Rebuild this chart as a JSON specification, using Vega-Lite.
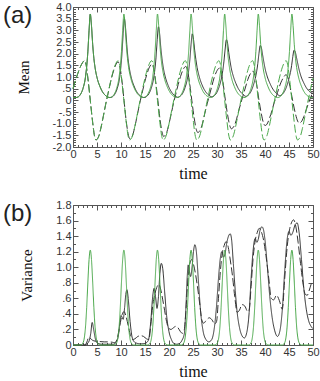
{
"$schema":"https://vega.github.io/schema/vega-lite/v6.json",
"padding":{"left":2,"top":0,"right":4,"bottom":0},
"spacing":16,
"config":{
 "view":{"stroke":"#555","strokeWidth":1},
 "axis":{"domain":false,"grid":false,"labelFont":"Liberation Sans","labelFontSize":11,"labelColor":"#333","tickColor":"#555","tickWidth":1,"tickSize":-5,"titleFont":"Liberation Serif","titleFontWeight":"normal","titleColor":"#111","labelOverlap":false,"labelFlush":false,"labelBound":false},
 "title":{"font":"Liberation Sans","fontSize":24,"fontWeight":"normal","color":"#222","anchor":"start","frame":"group","orient":"top","dx":-70,"dy":31,"offset":0},
 "line":{"interpolate":"monotone","strokeWidth":1}
},
"datasets":{
"A":[
{"s":"ks","t":0,"v":0.13},{"s":"ks","t":0.6,"v":0.12},{"s":"ks","t":1.1,"v":0.15},{"s":"ks","t":1.6,"v":0.27},{"s":"ks","t":2.1,"v":0.52},{"s":"ks","t":2.6,"v":1.0},{"s":"ks","t":2.85,"v":1.45},{"s":"ks","t":3.1,"v":2.1},{"s":"ks","t":3.35,"v":3.0},{"s":"ks","t":3.6,"v":3.7},{"s":"ks","t":3.85,"v":3.2},{"s":"ks","t":4.1,"v":2.4},{"s":"ks","t":4.35,"v":1.8},{"s":"ks","t":4.6,"v":1.4},{"s":"ks","t":5.1,"v":0.9},{"s":"ks","t":5.6,"v":0.6},{"s":"ks","t":6.1,"v":0.38},{"s":"ks","t":6.6,"v":0.24},{"s":"ks","t":7.1,"v":0.16},
{"s":"ks","t":7.7,"v":0.12},{"s":"ks","t":8.2,"v":0.15},{"s":"ks","t":8.7,"v":0.26},{"s":"ks","t":9.2,"v":0.5},{"s":"ks","t":9.7,"v":0.95},{"s":"ks","t":9.95,"v":1.38},{"s":"ks","t":10.2,"v":2.0},{"s":"ks","t":10.45,"v":2.85},{"s":"ks","t":10.7,"v":3.5},{"s":"ks","t":10.95,"v":3.1},{"s":"ks","t":11.2,"v":2.4},{"s":"ks","t":11.45,"v":1.82},{"s":"ks","t":11.7,"v":1.43},{"s":"ks","t":12.2,"v":0.93},{"s":"ks","t":12.7,"v":0.62},{"s":"ks","t":13.2,"v":0.4},{"s":"ks","t":13.7,"v":0.25},{"s":"ks","t":14.2,"v":0.17},
{"s":"ks","t":14.8,"v":0.12},{"s":"ks","t":15.3,"v":0.16},{"s":"ks","t":15.8,"v":0.28},{"s":"ks","t":16.3,"v":0.52},{"s":"ks","t":16.8,"v":0.95},{"s":"ks","t":17.05,"v":1.32},{"s":"ks","t":17.3,"v":1.85},{"s":"ks","t":17.55,"v":2.6},{"s":"ks","t":17.8,"v":3.15},{"s":"ks","t":18.05,"v":2.85},{"s":"ks","t":18.3,"v":2.25},{"s":"ks","t":18.55,"v":1.78},{"s":"ks","t":18.8,"v":1.42},{"s":"ks","t":19.3,"v":0.95},{"s":"ks","t":19.8,"v":0.65},{"s":"ks","t":20.3,"v":0.43},{"s":"ks","t":20.8,"v":0.28},{"s":"ks","t":21.3,"v":0.19},
{"s":"ks","t":21.85,"v":0.13},{"s":"ks","t":22.35,"v":0.18},{"s":"ks","t":22.85,"v":0.3},{"s":"ks","t":23.35,"v":0.55},{"s":"ks","t":23.85,"v":0.95},{"s":"ks","t":24.1,"v":1.28},{"s":"ks","t":24.35,"v":1.75},{"s":"ks","t":24.6,"v":2.4},{"s":"ks","t":24.85,"v":2.85},{"s":"ks","t":25.1,"v":2.62},{"s":"ks","t":25.35,"v":2.15},{"s":"ks","t":25.6,"v":1.75},{"s":"ks","t":25.85,"v":1.42},{"s":"ks","t":26.35,"v":0.98},{"s":"ks","t":26.85,"v":0.68},{"s":"ks","t":27.35,"v":0.46},{"s":"ks","t":27.85,"v":0.31},{"s":"ks","t":28.35,"v":0.21},
{"s":"ks","t":28.95,"v":0.15},{"s":"ks","t":29.45,"v":0.2},{"s":"ks","t":29.95,"v":0.33},{"s":"ks","t":30.45,"v":0.58},{"s":"ks","t":30.95,"v":0.97},{"s":"ks","t":31.2,"v":1.27},{"s":"ks","t":31.45,"v":1.68},{"s":"ks","t":31.7,"v":2.2},{"s":"ks","t":31.95,"v":2.6},{"s":"ks","t":32.2,"v":2.45},{"s":"ks","t":32.45,"v":2.05},{"s":"ks","t":32.7,"v":1.7},{"s":"ks","t":32.95,"v":1.4},{"s":"ks","t":33.45,"v":1.0},{"s":"ks","t":33.95,"v":0.72},{"s":"ks","t":34.45,"v":0.5},{"s":"ks","t":34.95,"v":0.35},{"s":"ks","t":35.45,"v":0.25},
{"s":"ks","t":36.0,"v":0.17},{"s":"ks","t":36.5,"v":0.22},{"s":"ks","t":37.0,"v":0.35},{"s":"ks","t":37.5,"v":0.6},{"s":"ks","t":38.0,"v":0.97},{"s":"ks","t":38.25,"v":1.22},{"s":"ks","t":38.5,"v":1.58},{"s":"ks","t":38.75,"v":2.02},{"s":"ks","t":39.0,"v":2.35},{"s":"ks","t":39.25,"v":2.25},{"s":"ks","t":39.5,"v":1.95},{"s":"ks","t":39.75,"v":1.65},{"s":"ks","t":40.0,"v":1.38},{"s":"ks","t":40.5,"v":1.0},{"s":"ks","t":41.0,"v":0.74},{"s":"ks","t":41.5,"v":0.53},{"s":"ks","t":42.0,"v":0.38},{"s":"ks","t":42.5,"v":0.28},
{"s":"ks","t":43.05,"v":0.2},{"s":"ks","t":43.55,"v":0.25},{"s":"ks","t":44.05,"v":0.38},{"s":"ks","t":44.55,"v":0.62},{"s":"ks","t":45.05,"v":0.98},{"s":"ks","t":45.3,"v":1.2},{"s":"ks","t":45.55,"v":1.5},{"s":"ks","t":45.8,"v":1.88},{"s":"ks","t":46.05,"v":2.15},{"s":"ks","t":46.3,"v":2.08},{"s":"ks","t":46.55,"v":1.85},{"s":"ks","t":46.8,"v":1.6},{"s":"ks","t":47.05,"v":1.36},{"s":"ks","t":47.55,"v":1.0},{"s":"ks","t":48.05,"v":0.76},{"s":"ks","t":48.55,"v":0.56},{"s":"ks","t":49.05,"v":0.42},{"s":"ks","t":49.55,"v":0.33},{"s":"ks","t":50,"v":0.3},
{"s":"kd","t":0,"v":0.5},{"s":"kd","t":0.5,"v":0.85},{"s":"kd","t":1,"v":1.15},{"s":"kd","t":1.5,"v":1.42},{"s":"kd","t":2,"v":1.62},{"s":"kd","t":2.4,"v":1.7},{"s":"kd","t":2.7,"v":1.55},{"s":"kd","t":3.1,"v":0.95},{"s":"kd","t":3.6,"v":0},{"s":"kd","t":4.1,"v":-0.95},{"s":"kd","t":4.5,"v":-1.55},{"s":"kd","t":4.8,"v":-1.7},
{"s":"kd","t":5.1,"v":-1.65},{"s":"kd","t":5.4,"v":-1.52},{"s":"kd","t":5.8,"v":-1.2},{"s":"kd","t":6.3,"v":-0.7},{"s":"kd","t":6.8,"v":-0.18},{"s":"kd","t":7.3,"v":0.29},{"s":"kd","t":7.8,"v":0.76},{"s":"kd","t":8.3,"v":1.16},{"s":"kd","t":8.8,"v":1.47},{"s":"kd","t":9.4,"v":1.65},
{"s":"kd","t":9.7,"v":1.5},{"s":"kd","t":10.15,"v":0.91},{"s":"kd","t":10.63,"v":0},{"s":"kd","t":11.1,"v":-0.91},{"s":"kd","t":11.55,"v":-1.5},{"s":"kd","t":11.85,"v":-1.65},
{"s":"kd","t":12.15,"v":-1.6},{"s":"kd","t":12.45,"v":-1.48},{"s":"kd","t":12.85,"v":-1.16},{"s":"kd","t":13.35,"v":-0.68},{"s":"kd","t":13.85,"v":-0.17},{"s":"kd","t":14.35,"v":0.27},{"s":"kd","t":14.85,"v":0.71},{"s":"kd","t":15.35,"v":1.09},{"s":"kd","t":15.85,"v":1.39},{"s":"kd","t":16.45,"v":1.55},
{"s":"kd","t":16.75,"v":1.41},{"s":"kd","t":17.2,"v":0.85},{"s":"kd","t":17.68,"v":0},{"s":"kd","t":18.15,"v":-0.85},{"s":"kd","t":18.6,"v":-1.41},{"s":"kd","t":18.9,"v":-1.55},
{"s":"kd","t":19.2,"v":-1.5},{"s":"kd","t":19.5,"v":-1.39},{"s":"kd","t":19.9,"v":-1.09},{"s":"kd","t":20.4,"v":-0.64},{"s":"kd","t":20.9,"v":-0.16},{"s":"kd","t":21.4,"v":0.26},{"s":"kd","t":21.9,"v":0.67},{"s":"kd","t":22.4,"v":1.02},{"s":"kd","t":22.9,"v":1.3},{"s":"kd","t":23.5,"v":1.45},
{"s":"kd","t":23.8,"v":1.32},{"s":"kd","t":24.25,"v":0.8},{"s":"kd","t":24.75,"v":0},{"s":"kd","t":25.25,"v":-0.76},{"s":"kd","t":25.7,"v":-1.26},{"s":"kd","t":26.0,"v":-1.38},
{"s":"kd","t":26.3,"v":-1.34},{"s":"kd","t":26.6,"v":-1.23},{"s":"kd","t":27.0,"v":-0.97},{"s":"kd","t":27.45,"v":-0.57},{"s":"kd","t":27.95,"v":-0.15},{"s":"kd","t":28.45,"v":0.24},{"s":"kd","t":28.95,"v":0.63},{"s":"kd","t":29.4,"v":0.97},{"s":"kd","t":29.9,"v":1.23},{"s":"kd","t":30.5,"v":1.38},
{"s":"kd","t":30.8,"v":1.26},{"s":"kd","t":31.25,"v":0.76},{"s":"kd","t":31.75,"v":0},{"s":"kd","t":32.25,"v":-0.67},{"s":"kd","t":32.7,"v":-1.11},{"s":"kd","t":33.0,"v":-1.22},
{"s":"kd","t":33.3,"v":-1.18},{"s":"kd","t":33.6,"v":-1.09},{"s":"kd","t":34.0,"v":-0.86},{"s":"kd","t":34.45,"v":-0.5},{"s":"kd","t":34.95,"v":-0.13},{"s":"kd","t":35.45,"v":0.22},{"s":"kd","t":35.95,"v":0.57},{"s":"kd","t":36.4,"v":0.88},{"s":"kd","t":36.9,"v":1.12},{"s":"kd","t":37.5,"v":1.25},
{"s":"kd","t":37.8,"v":1.14},{"s":"kd","t":38.25,"v":0.69},{"s":"kd","t":38.75,"v":0},{"s":"kd","t":39.25,"v":-0.59},{"s":"kd","t":39.7,"v":-0.98},{"s":"kd","t":40.0,"v":-1.08},
{"s":"kd","t":40.3,"v":-1.05},{"s":"kd","t":40.55,"v":-0.97},{"s":"kd","t":40.95,"v":-0.76},{"s":"kd","t":41.45,"v":-0.44},{"s":"kd","t":41.9,"v":-0.11},{"s":"kd","t":42.4,"v":0.19},{"s":"kd","t":42.85,"v":0.5},{"s":"kd","t":43.35,"v":0.78},{"s":"kd","t":43.85,"v":0.98},{"s":"kd","t":44.4,"v":1.1},
{"s":"kd","t":44.72,"v":1.0},{"s":"kd","t":45.2,"v":0.6},{"s":"kd","t":45.75,"v":0},{"s":"kd","t":46.3,"v":-0.54},{"s":"kd","t":46.8,"v":-0.89},{"s":"kd","t":47.1,"v":-0.98},
{"s":"kd","t":47.4,"v":-0.95},{"s":"kd","t":47.7,"v":-0.88},{"s":"kd","t":48.1,"v":-0.69},{"s":"kd","t":48.6,"v":-0.4},{"s":"kd","t":49.1,"v":-0.1},{"s":"kd","t":49.6,"v":0.17},{"s":"kd","t":50,"v":0.38},
{"s":"gs","t":0,"v":0.13},{"s":"gs","t":0.6,"v":0.12},{"s":"gs","t":1.1,"v":0.15},{"s":"gs","t":1.6,"v":0.27},{"s":"gs","t":2.1,"v":0.52},{"s":"gs","t":2.6,"v":1.0},{"s":"gs","t":2.85,"v":1.45},{"s":"gs","t":3.1,"v":2.1},{"s":"gs","t":3.35,"v":3.0},{"s":"gs","t":3.6,"v":3.7},{"s":"gs","t":3.85,"v":3.2},{"s":"gs","t":4.1,"v":2.4},{"s":"gs","t":4.35,"v":1.8},{"s":"gs","t":4.6,"v":1.4},{"s":"gs","t":5.1,"v":0.9},{"s":"gs","t":5.6,"v":0.6},{"s":"gs","t":6.1,"v":0.38},{"s":"gs","t":6.6,"v":0.24},{"s":"gs","t":7.1,"v":0.16},
{"s":"gs","t":7.6,"v":0.12},{"s":"gs","t":8.1,"v":0.15},{"s":"gs","t":8.6,"v":0.27},{"s":"gs","t":9.1,"v":0.52},{"s":"gs","t":9.6,"v":1.0},{"s":"gs","t":9.85,"v":1.45},{"s":"gs","t":10.1,"v":2.1},{"s":"gs","t":10.35,"v":3.0},{"s":"gs","t":10.6,"v":3.7},{"s":"gs","t":10.85,"v":3.2},{"s":"gs","t":11.1,"v":2.4},{"s":"gs","t":11.35,"v":1.8},{"s":"gs","t":11.6,"v":1.4},{"s":"gs","t":12.1,"v":0.9},{"s":"gs","t":12.6,"v":0.6},{"s":"gs","t":13.1,"v":0.38},{"s":"gs","t":13.6,"v":0.24},{"s":"gs","t":14.1,"v":0.16},
{"s":"gs","t":14.6,"v":0.12},{"s":"gs","t":15.1,"v":0.15},{"s":"gs","t":15.6,"v":0.27},{"s":"gs","t":16.1,"v":0.52},{"s":"gs","t":16.6,"v":1.0},{"s":"gs","t":16.85,"v":1.45},{"s":"gs","t":17.1,"v":2.1},{"s":"gs","t":17.35,"v":3.0},{"s":"gs","t":17.6,"v":3.7},{"s":"gs","t":17.85,"v":3.2},{"s":"gs","t":18.1,"v":2.4},{"s":"gs","t":18.35,"v":1.8},{"s":"gs","t":18.6,"v":1.4},{"s":"gs","t":19.1,"v":0.9},{"s":"gs","t":19.6,"v":0.6},{"s":"gs","t":20.1,"v":0.38},{"s":"gs","t":20.6,"v":0.24},{"s":"gs","t":21.1,"v":0.16},
{"s":"gs","t":21.6,"v":0.12},{"s":"gs","t":22.1,"v":0.15},{"s":"gs","t":22.6,"v":0.27},{"s":"gs","t":23.1,"v":0.52},{"s":"gs","t":23.6,"v":1.0},{"s":"gs","t":23.85,"v":1.45},{"s":"gs","t":24.1,"v":2.1},{"s":"gs","t":24.35,"v":3.0},{"s":"gs","t":24.6,"v":3.7},{"s":"gs","t":24.85,"v":3.2},{"s":"gs","t":25.1,"v":2.4},{"s":"gs","t":25.35,"v":1.8},{"s":"gs","t":25.6,"v":1.4},{"s":"gs","t":26.1,"v":0.9},{"s":"gs","t":26.6,"v":0.6},{"s":"gs","t":27.1,"v":0.38},{"s":"gs","t":27.6,"v":0.24},{"s":"gs","t":28.1,"v":0.16},
{"s":"gs","t":28.6,"v":0.12},{"s":"gs","t":29.1,"v":0.15},{"s":"gs","t":29.6,"v":0.27},{"s":"gs","t":30.1,"v":0.52},{"s":"gs","t":30.6,"v":1.0},{"s":"gs","t":30.85,"v":1.45},{"s":"gs","t":31.1,"v":2.1},{"s":"gs","t":31.35,"v":3.0},{"s":"gs","t":31.6,"v":3.7},{"s":"gs","t":31.85,"v":3.2},{"s":"gs","t":32.1,"v":2.4},{"s":"gs","t":32.35,"v":1.8},{"s":"gs","t":32.6,"v":1.4},{"s":"gs","t":33.1,"v":0.9},{"s":"gs","t":33.6,"v":0.6},{"s":"gs","t":34.1,"v":0.38},{"s":"gs","t":34.6,"v":0.24},{"s":"gs","t":35.1,"v":0.16},
{"s":"gs","t":35.6,"v":0.12},{"s":"gs","t":36.1,"v":0.15},{"s":"gs","t":36.6,"v":0.27},{"s":"gs","t":37.1,"v":0.52},{"s":"gs","t":37.6,"v":1.0},{"s":"gs","t":37.85,"v":1.45},{"s":"gs","t":38.1,"v":2.1},{"s":"gs","t":38.35,"v":3.0},{"s":"gs","t":38.6,"v":3.7},{"s":"gs","t":38.85,"v":3.2},{"s":"gs","t":39.1,"v":2.4},{"s":"gs","t":39.35,"v":1.8},{"s":"gs","t":39.6,"v":1.4},{"s":"gs","t":40.1,"v":0.9},{"s":"gs","t":40.6,"v":0.6},{"s":"gs","t":41.1,"v":0.38},{"s":"gs","t":41.6,"v":0.24},{"s":"gs","t":42.1,"v":0.16},
{"s":"gs","t":42.6,"v":0.12},{"s":"gs","t":43.1,"v":0.15},{"s":"gs","t":43.6,"v":0.27},{"s":"gs","t":44.1,"v":0.52},{"s":"gs","t":44.6,"v":1.0},{"s":"gs","t":44.85,"v":1.45},{"s":"gs","t":45.1,"v":2.1},{"s":"gs","t":45.35,"v":3.0},{"s":"gs","t":45.6,"v":3.7},{"s":"gs","t":45.85,"v":3.2},{"s":"gs","t":46.1,"v":2.4},{"s":"gs","t":46.35,"v":1.8},{"s":"gs","t":46.6,"v":1.4},{"s":"gs","t":47.1,"v":0.9},{"s":"gs","t":47.6,"v":0.6},{"s":"gs","t":48.1,"v":0.38},{"s":"gs","t":48.6,"v":0.24},{"s":"gs","t":49.1,"v":0.16},{"s":"gs","t":49.6,"v":0.12},{"s":"gs","t":50,"v":0.12},
{"s":"gd","t":0,"v":0.5},{"s":"gd","t":0.5,"v":0.85},{"s":"gd","t":1,"v":1.15},{"s":"gd","t":1.5,"v":1.42},{"s":"gd","t":2,"v":1.62},{"s":"gd","t":2.4,"v":1.7},
{"s":"gd","t":2.7,"v":1.55},{"s":"gd","t":3.1,"v":0.95},{"s":"gd","t":3.6,"v":0},{"s":"gd","t":4.1,"v":-0.95},{"s":"gd","t":4.5,"v":-1.55},{"s":"gd","t":4.8,"v":-1.7},{"s":"gd","t":5.1,"v":-1.65},{"s":"gd","t":5.4,"v":-1.52},{"s":"gd","t":5.8,"v":-1.2},{"s":"gd","t":6.3,"v":-0.7},{"s":"gd","t":6.8,"v":-0.18},{"s":"gd","t":7.3,"v":0.3},{"s":"gd","t":7.8,"v":0.78},{"s":"gd","t":8.3,"v":1.2},{"s":"gd","t":8.8,"v":1.52},{"s":"gd","t":9.4,"v":1.7},
{"s":"gd","t":9.7,"v":1.55},{"s":"gd","t":10.1,"v":0.95},{"s":"gd","t":10.6,"v":0},{"s":"gd","t":11.1,"v":-0.95},{"s":"gd","t":11.5,"v":-1.55},{"s":"gd","t":11.8,"v":-1.7},{"s":"gd","t":12.1,"v":-1.65},{"s":"gd","t":12.4,"v":-1.52},{"s":"gd","t":12.8,"v":-1.2},{"s":"gd","t":13.3,"v":-0.7},{"s":"gd","t":13.8,"v":-0.18},{"s":"gd","t":14.3,"v":0.3},{"s":"gd","t":14.8,"v":0.78},{"s":"gd","t":15.3,"v":1.2},{"s":"gd","t":15.8,"v":1.52},{"s":"gd","t":16.4,"v":1.7},
{"s":"gd","t":16.7,"v":1.55},{"s":"gd","t":17.1,"v":0.95},{"s":"gd","t":17.6,"v":0},{"s":"gd","t":18.1,"v":-0.95},{"s":"gd","t":18.5,"v":-1.55},{"s":"gd","t":18.8,"v":-1.7},{"s":"gd","t":19.1,"v":-1.65},{"s":"gd","t":19.4,"v":-1.52},{"s":"gd","t":19.8,"v":-1.2},{"s":"gd","t":20.3,"v":-0.7},{"s":"gd","t":20.8,"v":-0.18},{"s":"gd","t":21.3,"v":0.3},{"s":"gd","t":21.8,"v":0.78},{"s":"gd","t":22.3,"v":1.2},{"s":"gd","t":22.8,"v":1.52},{"s":"gd","t":23.4,"v":1.7},
{"s":"gd","t":23.7,"v":1.55},{"s":"gd","t":24.1,"v":0.95},{"s":"gd","t":24.6,"v":0},{"s":"gd","t":25.1,"v":-0.95},{"s":"gd","t":25.5,"v":-1.55},{"s":"gd","t":25.8,"v":-1.7},{"s":"gd","t":26.1,"v":-1.65},{"s":"gd","t":26.4,"v":-1.52},{"s":"gd","t":26.8,"v":-1.2},{"s":"gd","t":27.3,"v":-0.7},{"s":"gd","t":27.8,"v":-0.18},{"s":"gd","t":28.3,"v":0.3},{"s":"gd","t":28.8,"v":0.78},{"s":"gd","t":29.3,"v":1.2},{"s":"gd","t":29.8,"v":1.52},{"s":"gd","t":30.4,"v":1.7},
{"s":"gd","t":30.7,"v":1.55},{"s":"gd","t":31.1,"v":0.95},{"s":"gd","t":31.6,"v":0},{"s":"gd","t":32.1,"v":-0.95},{"s":"gd","t":32.5,"v":-1.55},{"s":"gd","t":32.8,"v":-1.7},{"s":"gd","t":33.1,"v":-1.65},{"s":"gd","t":33.4,"v":-1.52},{"s":"gd","t":33.8,"v":-1.2},{"s":"gd","t":34.3,"v":-0.7},{"s":"gd","t":34.8,"v":-0.18},{"s":"gd","t":35.3,"v":0.3},{"s":"gd","t":35.8,"v":0.78},{"s":"gd","t":36.3,"v":1.2},{"s":"gd","t":36.8,"v":1.52},{"s":"gd","t":37.4,"v":1.7},
{"s":"gd","t":37.7,"v":1.55},{"s":"gd","t":38.1,"v":0.95},{"s":"gd","t":38.6,"v":0},{"s":"gd","t":39.1,"v":-0.95},{"s":"gd","t":39.5,"v":-1.55},{"s":"gd","t":39.8,"v":-1.7},{"s":"gd","t":40.1,"v":-1.65},{"s":"gd","t":40.4,"v":-1.52},{"s":"gd","t":40.8,"v":-1.2},{"s":"gd","t":41.3,"v":-0.7},{"s":"gd","t":41.8,"v":-0.18},{"s":"gd","t":42.3,"v":0.3},{"s":"gd","t":42.8,"v":0.78},{"s":"gd","t":43.3,"v":1.2},{"s":"gd","t":43.8,"v":1.52},{"s":"gd","t":44.4,"v":1.7},
{"s":"gd","t":44.7,"v":1.55},{"s":"gd","t":45.1,"v":0.95},{"s":"gd","t":45.6,"v":0},{"s":"gd","t":46.1,"v":-0.95},{"s":"gd","t":46.5,"v":-1.55},{"s":"gd","t":46.8,"v":-1.7},{"s":"gd","t":47.1,"v":-1.65},{"s":"gd","t":47.4,"v":-1.52},{"s":"gd","t":47.8,"v":-1.2},{"s":"gd","t":48.3,"v":-0.7},{"s":"gd","t":48.8,"v":-0.18},{"s":"gd","t":49.3,"v":0.3},{"s":"gd","t":49.8,"v":0.78},{"s":"gd","t":50,"v":0.95}
],
"B":[
{"s":"ks","t":0,"v":0},{"s":"ks","t":2.5,"v":0},{"s":"ks","t":3.0,"v":0.02},{"s":"ks","t":3.4,"v":0.06},{"s":"ks","t":3.7,"v":0.15},{"s":"ks","t":4.0,"v":0.29},{"s":"ks","t":4.3,"v":0.2},{"s":"ks","t":4.7,"v":0.07},{"s":"ks","t":5.2,"v":0.02},{"s":"ks","t":6,"v":0.01},{"s":"ks","t":8.5,"v":0.01},{"s":"ks","t":9.0,"v":0.04},{"s":"ks","t":9.5,"v":0.14},{"s":"ks","t":9.8,"v":0.3},{"s":"ks","t":10.0,"v":0.38},{"s":"ks","t":10.2,"v":0.36},{"s":"ks","t":10.45,"v":0.33},{"s":"ks","t":10.75,"v":0.48},{"s":"ks","t":11.0,"v":0.65},{"s":"ks","t":11.25,"v":0.71},{"s":"ks","t":11.5,"v":0.6},{"s":"ks","t":11.9,"v":0.3},{"s":"ks","t":12.4,"v":0.08},{"s":"ks","t":13.0,"v":0.03},{"s":"ks","t":14.0,"v":0.015},{"s":"ks","t":15.0,"v":0.02},{"s":"ks","t":15.7,"v":0.06},{"s":"ks","t":16.2,"v":0.3},{"s":"ks","t":16.6,"v":0.62},{"s":"ks","t":16.9,"v":0.73},{"s":"ks","t":17.2,"v":0.62},{"s":"ks","t":17.5,"v":0.47},{"s":"ks","t":17.8,"v":0.62},{"s":"ks","t":18.1,"v":0.92},{"s":"ks","t":18.4,"v":1.05},{"s":"ks","t":18.7,"v":0.98},{"s":"ks","t":19.1,"v":0.68},{"s":"ks","t":19.5,"v":0.38},{"s":"ks","t":20.0,"v":0.17},{"s":"ks","t":20.5,"v":0.07},{"s":"ks","t":21.0,"v":0.02},{"s":"ks","t":21.6,"v":0.01},{"s":"ks","t":22.2,"v":0.02},{"s":"ks","t":22.7,"v":0.06},{"s":"ks","t":23.2,"v":0.15},{"s":"ks","t":23.5,"v":0.45},{"s":"ks","t":23.8,"v":0.88},{"s":"ks","t":24.0,"v":1.03},{"s":"ks","t":24.25,"v":0.95},{"s":"ks","t":24.5,"v":0.88},{"s":"ks","t":24.8,"v":1.0},{"s":"ks","t":25.1,"v":1.2},{"s":"ks","t":25.4,"v":1.29},{"s":"ks","t":25.7,"v":1.2},{"s":"ks","t":26.1,"v":0.85},{"s":"ks","t":26.6,"v":0.42},{"s":"ks","t":27.1,"v":0.18},{"s":"ks","t":27.7,"v":0.07},{"s":"ks","t":28.3,"v":0.04},{"s":"ks","t":28.9,"v":0.07},{"s":"ks","t":29.4,"v":0.2},{"s":"ks","t":29.9,"v":0.5},{"s":"ks","t":30.3,"v":0.85},{"s":"ks","t":30.7,"v":1.12},{"s":"ks","t":31.0,"v":1.2},{"s":"ks","t":31.35,"v":1.13},{"s":"ks","t":31.7,"v":1.18},{"s":"ks","t":32.0,"v":1.3},{"s":"ks","t":32.4,"v":1.4},{"s":"ks","t":32.75,"v":1.43},{"s":"ks","t":33.05,"v":1.35},{"s":"ks","t":33.4,"v":1.05},{"s":"ks","t":33.8,"v":0.7},{"s":"ks","t":34.2,"v":0.42},{"s":"ks","t":34.7,"v":0.22},{"s":"ks","t":35.2,"v":0.12},{"s":"ks","t":35.7,"v":0.09},{"s":"ks","t":36.2,"v":0.16},{"s":"ks","t":36.7,"v":0.42},{"s":"ks","t":37.1,"v":0.85},{"s":"ks","t":37.5,"v":1.2},{"s":"ks","t":37.95,"v":1.37},{"s":"ks","t":38.3,"v":1.32},{"s":"ks","t":38.6,"v":1.36},{"s":"ks","t":38.95,"v":1.47},{"s":"ks","t":39.35,"v":1.52},{"s":"ks","t":39.65,"v":1.49},{"s":"ks","t":40.0,"v":1.35},{"s":"ks","t":40.5,"v":1.0},{"s":"ks","t":41.0,"v":0.62},{"s":"ks","t":41.5,"v":0.35},{"s":"ks","t":42.0,"v":0.19},{"s":"ks","t":42.6,"v":0.11},{"s":"ks","t":43.1,"v":0.18},{"s":"ks","t":43.6,"v":0.45},{"s":"ks","t":44.1,"v":0.95},{"s":"ks","t":44.6,"v":1.35},{"s":"ks","t":45.0,"v":1.46},{"s":"ks","t":45.4,"v":1.41},{"s":"ks","t":45.8,"v":1.45},{"s":"ks","t":46.3,"v":1.55},{"s":"ks","t":46.7,"v":1.57},{"s":"ks","t":47.1,"v":1.45},{"s":"ks","t":47.6,"v":1.1},{"s":"ks","t":48.1,"v":0.72},{"s":"ks","t":48.6,"v":0.46},{"s":"ks","t":49.1,"v":0.31},{"s":"ks","t":49.6,"v":0.24},{"s":"ks","t":50,"v":0.21},
{"s":"kd","t":0,"v":0},{"s":"kd","t":2.5,"v":0},{"s":"kd","t":2.9,"v":0.04},{"s":"kd","t":3.3,"v":0.1},{"s":"kd","t":3.7,"v":0.08},{"s":"kd","t":4.1,"v":0.06},{"s":"kd","t":4.6,"v":0.05},{"s":"kd","t":5.5,"v":0.045},{"s":"kd","t":6.5,"v":0.04},{"s":"kd","t":7.5,"v":0.04},{"s":"kd","t":8.2,"v":0.035},{"s":"kd","t":8.7,"v":0.03},{"s":"kd","t":9.2,"v":0.08},{"s":"kd","t":9.6,"v":0.2},{"s":"kd","t":10.0,"v":0.33},{"s":"kd","t":10.35,"v":0.41},{"s":"kd","t":10.65,"v":0.43},{"s":"kd","t":11.0,"v":0.38},{"s":"kd","t":11.5,"v":0.25},{"s":"kd","t":12.0,"v":0.12},{"s":"kd","t":12.4,"v":0.07},{"s":"kd","t":12.9,"v":0.08},{"s":"kd","t":13.5,"v":0.11},{"s":"kd","t":14.1,"v":0.12},{"s":"kd","t":14.7,"v":0.11},{"s":"kd","t":15.3,"v":0.08},{"s":"kd","t":15.8,"v":0.07},{"s":"kd","t":16.2,"v":0.25},{"s":"kd","t":16.6,"v":0.5},{"s":"kd","t":17.0,"v":0.64},{"s":"kd","t":17.45,"v":0.74},{"s":"kd","t":17.9,"v":0.78},{"s":"kd","t":18.25,"v":0.72},{"s":"kd","t":18.7,"v":0.58},{"s":"kd","t":19.1,"v":0.44},{"s":"kd","t":19.5,"v":0.3},{"s":"kd","t":19.9,"v":0.22},{"s":"kd","t":20.4,"v":0.2},{"s":"kd","t":20.9,"v":0.22},{"s":"kd","t":21.4,"v":0.24},{"s":"kd","t":21.9,"v":0.22},{"s":"kd","t":22.4,"v":0.17},{"s":"kd","t":22.8,"v":0.15},{"s":"kd","t":23.2,"v":0.2},{"s":"kd","t":23.5,"v":0.42},{"s":"kd","t":23.8,"v":0.72},{"s":"kd","t":24.1,"v":0.95},{"s":"kd","t":24.45,"v":1.07},{"s":"kd","t":24.75,"v":1.1},{"s":"kd","t":25.05,"v":1.05},{"s":"kd","t":25.5,"v":0.92},{"s":"kd","t":26.0,"v":0.72},{"s":"kd","t":26.5,"v":0.48},{"s":"kd","t":26.8,"v":0.33},{"s":"kd","t":27.2,"v":0.28},{"s":"kd","t":27.8,"v":0.32},{"s":"kd","t":28.4,"v":0.35},{"s":"kd","t":29.0,"v":0.32},{"s":"kd","t":29.5,"v":0.27},{"s":"kd","t":29.9,"v":0.3},{"s":"kd","t":30.3,"v":0.6},{"s":"kd","t":30.7,"v":0.95},{"s":"kd","t":31.1,"v":1.18},{"s":"kd","t":31.5,"v":1.28},{"s":"kd","t":31.9,"v":1.33},{"s":"kd","t":32.3,"v":1.27},{"s":"kd","t":32.7,"v":1.12},{"s":"kd","t":33.2,"v":0.9},{"s":"kd","t":33.7,"v":0.62},{"s":"kd","t":34.2,"v":0.42},{"s":"kd","t":34.7,"v":0.45},{"s":"kd","t":35.2,"v":0.52},{"s":"kd","t":35.8,"v":0.5},{"s":"kd","t":36.4,"v":0.43},{"s":"kd","t":36.7,"v":0.45},{"s":"kd","t":37.1,"v":0.75},{"s":"kd","t":37.5,"v":1.1},{"s":"kd","t":37.9,"v":1.32},{"s":"kd","t":38.4,"v":1.45},{"s":"kd","t":38.8,"v":1.5},{"s":"kd","t":39.2,"v":1.46},{"s":"kd","t":39.7,"v":1.35},{"s":"kd","t":40.2,"v":1.15},{"s":"kd","t":40.8,"v":0.85},{"s":"kd","t":41.3,"v":0.6},{"s":"kd","t":41.8,"v":0.58},{"s":"kd","t":42.4,"v":0.64},{"s":"kd","t":43.0,"v":0.57},{"s":"kd","t":43.6,"v":0.46},{"s":"kd","t":44.1,"v":0.85},{"s":"kd","t":44.6,"v":1.25},{"s":"kd","t":45.1,"v":1.48},{"s":"kd","t":45.5,"v":1.57},{"s":"kd","t":45.95,"v":1.61},{"s":"kd","t":46.4,"v":1.53},{"s":"kd","t":46.9,"v":1.32},{"s":"kd","t":47.4,"v":1.05},{"s":"kd","t":47.9,"v":0.8},{"s":"kd","t":48.4,"v":0.65},{"s":"kd","t":48.8,"v":0.64},{"s":"kd","t":49.3,"v":0.72},{"s":"kd","t":49.8,"v":0.8},{"s":"kd","t":50,"v":0.8},
{"s":"gs","t":0,"v":0},{"s":"gs","t":1.6,"v":0},{"s":"gs","t":2.1,"v":0.03},{"s":"gs","t":2.35,"v":0.09},{"s":"gs","t":2.6,"v":0.23},{"s":"gs","t":2.85,"v":0.48},{"s":"gs","t":3.1,"v":0.81},{"s":"gs","t":3.35,"v":1.1},{"s":"gs","t":3.6,"v":1.22},{"s":"gs","t":3.85,"v":1.1},{"s":"gs","t":4.1,"v":0.81},{"s":"gs","t":4.35,"v":0.48},{"s":"gs","t":4.6,"v":0.23},{"s":"gs","t":4.85,"v":0.09},{"s":"gs","t":5.1,"v":0.03},{"s":"gs","t":5.6,"v":0},
{"s":"gs","t":8.6,"v":0},{"s":"gs","t":9.1,"v":0.03},{"s":"gs","t":9.35,"v":0.09},{"s":"gs","t":9.6,"v":0.23},{"s":"gs","t":9.85,"v":0.48},{"s":"gs","t":10.1,"v":0.81},{"s":"gs","t":10.35,"v":1.1},{"s":"gs","t":10.6,"v":1.22},{"s":"gs","t":10.85,"v":1.1},{"s":"gs","t":11.1,"v":0.81},{"s":"gs","t":11.35,"v":0.48},{"s":"gs","t":11.6,"v":0.23},{"s":"gs","t":11.85,"v":0.09},{"s":"gs","t":12.1,"v":0.03},{"s":"gs","t":12.6,"v":0},
{"s":"gs","t":15.6,"v":0},{"s":"gs","t":16.1,"v":0.03},{"s":"gs","t":16.35,"v":0.09},{"s":"gs","t":16.6,"v":0.23},{"s":"gs","t":16.85,"v":0.48},{"s":"gs","t":17.1,"v":0.81},{"s":"gs","t":17.35,"v":1.1},{"s":"gs","t":17.6,"v":1.22},{"s":"gs","t":17.85,"v":1.1},{"s":"gs","t":18.1,"v":0.81},{"s":"gs","t":18.35,"v":0.48},{"s":"gs","t":18.6,"v":0.23},{"s":"gs","t":18.85,"v":0.09},{"s":"gs","t":19.1,"v":0.03},{"s":"gs","t":19.6,"v":0},
{"s":"gs","t":22.6,"v":0},{"s":"gs","t":23.1,"v":0.03},{"s":"gs","t":23.35,"v":0.09},{"s":"gs","t":23.6,"v":0.23},{"s":"gs","t":23.85,"v":0.48},{"s":"gs","t":24.1,"v":0.81},{"s":"gs","t":24.35,"v":1.1},{"s":"gs","t":24.6,"v":1.22},{"s":"gs","t":24.85,"v":1.1},{"s":"gs","t":25.1,"v":0.81},{"s":"gs","t":25.35,"v":0.48},{"s":"gs","t":25.6,"v":0.23},{"s":"gs","t":25.85,"v":0.09},{"s":"gs","t":26.1,"v":0.03},{"s":"gs","t":26.6,"v":0},
{"s":"gs","t":29.6,"v":0},{"s":"gs","t":30.1,"v":0.03},{"s":"gs","t":30.35,"v":0.09},{"s":"gs","t":30.6,"v":0.23},{"s":"gs","t":30.85,"v":0.48},{"s":"gs","t":31.1,"v":0.81},{"s":"gs","t":31.35,"v":1.1},{"s":"gs","t":31.6,"v":1.22},{"s":"gs","t":31.85,"v":1.1},{"s":"gs","t":32.1,"v":0.81},{"s":"gs","t":32.35,"v":0.48},{"s":"gs","t":32.6,"v":0.23},{"s":"gs","t":32.85,"v":0.09},{"s":"gs","t":33.1,"v":0.03},{"s":"gs","t":33.6,"v":0},
{"s":"gs","t":36.6,"v":0},{"s":"gs","t":37.1,"v":0.03},{"s":"gs","t":37.35,"v":0.09},{"s":"gs","t":37.6,"v":0.23},{"s":"gs","t":37.85,"v":0.48},{"s":"gs","t":38.1,"v":0.81},{"s":"gs","t":38.35,"v":1.1},{"s":"gs","t":38.6,"v":1.22},{"s":"gs","t":38.85,"v":1.1},{"s":"gs","t":39.1,"v":0.81},{"s":"gs","t":39.35,"v":0.48},{"s":"gs","t":39.6,"v":0.23},{"s":"gs","t":39.85,"v":0.09},{"s":"gs","t":40.1,"v":0.03},{"s":"gs","t":40.6,"v":0},
{"s":"gs","t":43.6,"v":0},{"s":"gs","t":44.1,"v":0.03},{"s":"gs","t":44.35,"v":0.09},{"s":"gs","t":44.6,"v":0.23},{"s":"gs","t":44.85,"v":0.48},{"s":"gs","t":45.1,"v":0.81},{"s":"gs","t":45.35,"v":1.1},{"s":"gs","t":45.6,"v":1.22},{"s":"gs","t":45.85,"v":1.1},{"s":"gs","t":46.1,"v":0.81},{"s":"gs","t":46.35,"v":0.48},{"s":"gs","t":46.6,"v":0.23},{"s":"gs","t":46.85,"v":0.09},{"s":"gs","t":47.1,"v":0.03},{"s":"gs","t":47.6,"v":0},{"s":"gs","t":50,"v":0}
]
},
"vconcat":[
{"width":240,"height":140,"title":{"text":"(a)"},"data":{"name":"A"},
 "layer":[
  {"mark":{"type":"line"},
   "encoding":{
    "x":{"field":"t","type":"quantitative","scale":{"domain":[0,50],"nice":false},
     "axis":{"orient":"bottom","values":[0,1,2,3,4,5,6,7,8,9,10,11,12,13,14,15,16,17,18,19,20,21,22,23,24,25,26,27,28,29,30,31,32,33,34,35,36,37,38,39,40,41,42,43,44,45,46,47,48,49,50],"labelExpr":"datum.value % 5 == 0 ? datum.label : ''","tickSize":{"condition":{"test":"datum.value % 5 == 0","value":-5},"value":-2.5},"labelPadding":6,"title":"time","titleFontSize":16,"titlePadding":4}},
    "y":{"field":"v","type":"quantitative","scale":{"domain":[-2,4],"nice":false,"zero":false},
     "axis":{"orient":"left","values":[-2,-1.9,-1.8,-1.7,-1.6,-1.5,-1.4,-1.3,-1.2,-1.1,-1,-0.9,-0.8,-0.7,-0.6,-0.5,-0.4,-0.3,-0.2,-0.1,0,0.1,0.2,0.3,0.4,0.5,0.6,0.7,0.8,0.9,1,1.1,1.2,1.3,1.4,1.5,1.6,1.7,1.8,1.9,2,2.1,2.2,2.3,2.4,2.5,2.6,2.7,2.8,2.9,3,3.1,3.2,3.3,3.4,3.5,3.6,3.7,3.8,3.9,4],"labelExpr":"round(datum.value*10) % 5 != 0 ? '' : (datum.value == 0 ? '0' : replace(replace(format(datum.value, '.1f'), '0.', '.'), '\u2212', '-'))","tickSize":{"condition":{"test":"round(datum.value*10) % 5 == 0","value":-5},"value":-2.5},"labelPadding":7,"title":"Mean","titleFontSize":15,"titlePadding":21}},
    "color":{"field":"s","type":"nominal","scale":{"domain":["ks","kd","gs","gd"],"range":["#333333","#333333","#4aa84a","#4aa84a"]},"legend":null},
    "strokeDash":{"field":"s","type":"nominal","scale":{"domain":["ks","kd","gs","gd"],"range":[[1,0],[8,3],[1,0],[8,3]]},"legend":null}
   }},
  {"mark":{"type":"line","opacity":0},
   "encoding":{
    "x":{"field":"t","type":"quantitative","axis":{"orient":"top","values":[0,1,2,3,4,5,6,7,8,9,10,11,12,13,14,15,16,17,18,19,20,21,22,23,24,25,26,27,28,29,30,31,32,33,34,35,36,37,38,39,40,41,42,43,44,45,46,47,48,49,50],"labels":false,"title":null,"tickSize":{"condition":{"test":"datum.value % 5 == 0","value":-5},"value":-2.5}}},
    "y":{"field":"v","type":"quantitative","axis":{"orient":"right","values":[-2,-1.9,-1.8,-1.7,-1.6,-1.5,-1.4,-1.3,-1.2,-1.1,-1,-0.9,-0.8,-0.7,-0.6,-0.5,-0.4,-0.3,-0.2,-0.1,0,0.1,0.2,0.3,0.4,0.5,0.6,0.7,0.8,0.9,1,1.1,1.2,1.3,1.4,1.5,1.6,1.7,1.8,1.9,2,2.1,2.2,2.3,2.4,2.5,2.6,2.7,2.8,2.9,3,3.1,3.2,3.3,3.4,3.5,3.6,3.7,3.8,3.9,4],"labels":false,"title":null,"tickSize":{"condition":{"test":"round(datum.value*10) % 5 == 0","value":-5},"value":-2.5}}},
    "detail":{"field":"s","type":"nominal"}
   }}
 ],
 "resolve":{"axis":{"x":"independent","y":"independent"}}
},
{"width":240,"height":140,"title":{"text":"(b)"},"data":{"name":"B"},
 "layer":[
  {"mark":{"type":"line"},
   "encoding":{
    "x":{"field":"t","type":"quantitative","scale":{"domain":[0,50],"nice":false},
     "axis":{"orient":"bottom","values":[0,1,2,3,4,5,6,7,8,9,10,11,12,13,14,15,16,17,18,19,20,21,22,23,24,25,26,27,28,29,30,31,32,33,34,35,36,37,38,39,40,41,42,43,44,45,46,47,48,49,50],"labelExpr":"datum.value % 5 == 0 ? datum.label : ''","tickSize":{"condition":{"test":"datum.value % 5 == 0","value":-5},"value":-2.5},"labelPadding":6,"title":"time","titleFontSize":16,"titlePadding":4}},
    "y":{"field":"v","type":"quantitative","scale":{"domain":[0,1.8],"nice":false},
     "axis":{"orient":"left","values":[0,0.1,0.2,0.3,0.4,0.5,0.6,0.7,0.8,0.9,1,1.1,1.2,1.3,1.4,1.5,1.6,1.7,1.8],"labelExpr":"round(datum.value*10) % 2 != 0 ? '' : (datum.value == 0 ? '0' : replace(format(datum.value, '.1f'), '0.', '.'))","tickSize":{"condition":{"test":"round(datum.value*10) % 2 == 0","value":-5},"value":-2.5},"labelPadding":7,"title":"Variance","titleFontSize":15,"titlePadding":21}},
    "color":{"field":"s","type":"nominal","scale":{"domain":["ks","kd","gs"],"range":["#333333","#333333","#4aa84a"]},"legend":null},
    "strokeDash":{"field":"s","type":"nominal","scale":{"domain":["ks","kd","gs"],"range":[[1,0],[8,3],[1,0]]},"legend":null}
   }},
  {"mark":{"type":"line","opacity":0},
   "encoding":{
    "x":{"field":"t","type":"quantitative","axis":{"orient":"top","values":[0,1,2,3,4,5,6,7,8,9,10,11,12,13,14,15,16,17,18,19,20,21,22,23,24,25,26,27,28,29,30,31,32,33,34,35,36,37,38,39,40,41,42,43,44,45,46,47,48,49,50],"labels":false,"title":null,"tickSize":{"condition":{"test":"datum.value % 5 == 0","value":-5},"value":-2.5}}},
    "y":{"field":"v","type":"quantitative","axis":{"orient":"right","values":[0,0.1,0.2,0.3,0.4,0.5,0.6,0.7,0.8,0.9,1,1.1,1.2,1.3,1.4,1.5,1.6,1.7,1.8],"labels":false,"title":null,"tickSize":{"condition":{"test":"round(datum.value*10) % 2 == 0","value":-5},"value":-2.5}}},
    "detail":{"field":"s","type":"nominal"}
   }}
 ],
 "resolve":{"axis":{"x":"independent","y":"independent"}}
}
]
}
